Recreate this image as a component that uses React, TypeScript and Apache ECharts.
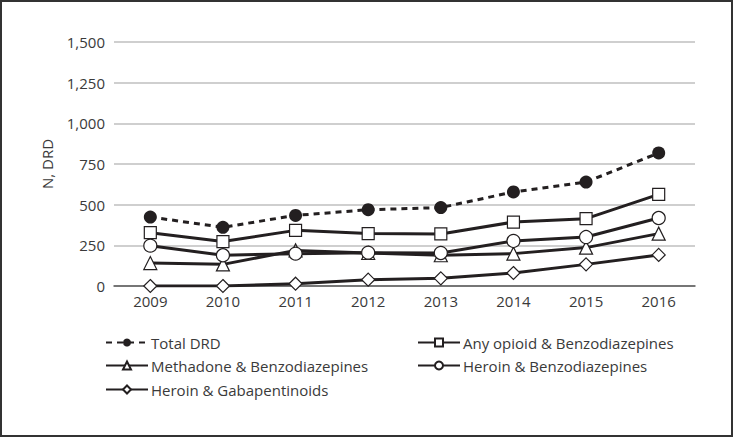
import React, { useEffect, useRef } from "react";
import * as echarts from "echarts";

const years = ["2009", "2010", "2011", "2012", "2013", "2014", "2015", "2016"];
const totalDRD = [424, 361, 434, 469, 482, 578, 639, 818];
const anyOpioidBenzo = [328, 273, 342, 322, 320, 393, 414, 563];
const methadoneBenzo = [141, 133, 219, 203, 189, 199, 236, 322];
const heroinBenzo = [248, 189, 199, 205, 203, 277, 301, 418];
const heroinGaba = [0, 0, 14, 39, 47, 80, 133, 191];

const seriesNames = [
  "Total DRD",
  "Any opioid & Benzodiazepines",
  "Methadone & Benzodiazepines",
  "Heroin & Benzodiazepines",
  "Heroin & Gabapentinoids",
];

const INK = "#231f20";
const TXT = "#3a3a3a";
const FONT = "'Open Sans', sans-serif";

export default function App() {
  const ref = useRef<HTMLDivElement>(null);
  useEffect(() => {
    if (!ref.current) return;
    const chart = echarts.init(ref.current, null, { renderer: "svg" });
    const hollow = {
      color: "#fff",
      borderColor: INK,
      borderWidth: 1.2,
    };
    const mk = (name: string, data: number[], symbol: string, size: number, dashed = false) => ({
      name,
      type: "line",
      data,
      symbol,
      symbolSize: size,
      showAllSymbol: true,
      lineStyle: { color: INK, width: 3, type: dashed ? [6, 5] : "solid" },
      itemStyle: dashed ? { color: INK, borderColor: INK, borderWidth: 0 } : hollow,
      emphasis: { disabled: true },
    });
    const legendPos = [
      { left: 105, top: 335 },
      { left: 417, top: 335 },
      { left: 105, top: 358 },
      { left: 417, top: 358 },
      { left: 105, top: 382 },
    ];
    chart.setOption({
      animation: false,
      textStyle: { fontFamily: FONT },
      grid: { left: 114, right: 39, top: 42, bottom: 152, containLabel: false },
      graphic: [
        {
          type: "rect",
          shape: { x: 1, y: 1, width: 731, height: 435 },
          style: { fill: "none", stroke: "#333", lineWidth: 2 },
          silent: true,
        },
      ],
      legend: seriesNames.map((n, i) => ({
        data: [n],
        left: legendPos[i].left,
        top: legendPos[i].top,
        itemWidth: 42,
        itemHeight: 10,
        itemGap: 0,
        padding: 0,
        textStyle: { fontFamily: FONT, fontSize: 15, color: TXT, padding: [0, 0, 0, -2] },
        selectedMode: false,
      })),
      xAxis: {
        type: "category",
        data: years,
        boundaryGap: true,
        axisLine: { lineStyle: { color: "#595959", width: 1.5 } },
        axisTick: { show: false },
        axisLabel: { color: TXT, fontSize: 15, margin: 7, fontFamily: FONT },
      },
      yAxis: {
        type: "value",
        min: 0,
        max: 1500,
        interval: 250,
        name: "N, DRD",
        nameLocation: "middle",
        nameGap: 60,
        nameTextStyle: { color: TXT, fontSize: 15, fontFamily: FONT },
        axisLine: { show: false },
        axisTick: { show: false },
        axisLabel: {
          color: TXT,
          fontSize: 15,
          margin: 9,
          fontFamily: FONT,
          formatter: (v: number) => v.toLocaleString("en-US"),
        },
        splitLine: { lineStyle: { color: "#bfbfbf", width: 1.5 } },
      },
      series: [
        mk(seriesNames[0], totalDRD, "circle", 13, true),
        mk(seriesNames[1], anyOpioidBenzo, "rect", 12),
        mk(seriesNames[2], methadoneBenzo, "triangle", 13),
        mk(seriesNames[3], heroinBenzo, "circle", 13),
        mk(seriesNames[4], heroinGaba, "diamond", 13),
      ],
    });
    return () => chart.dispose();
  }, []);
  return (
    <div
      ref={ref}
      style={{ position: "fixed", left: 0, top: 0, width: 734, height: 438, background: "#fff" }}
    />
  );
}
